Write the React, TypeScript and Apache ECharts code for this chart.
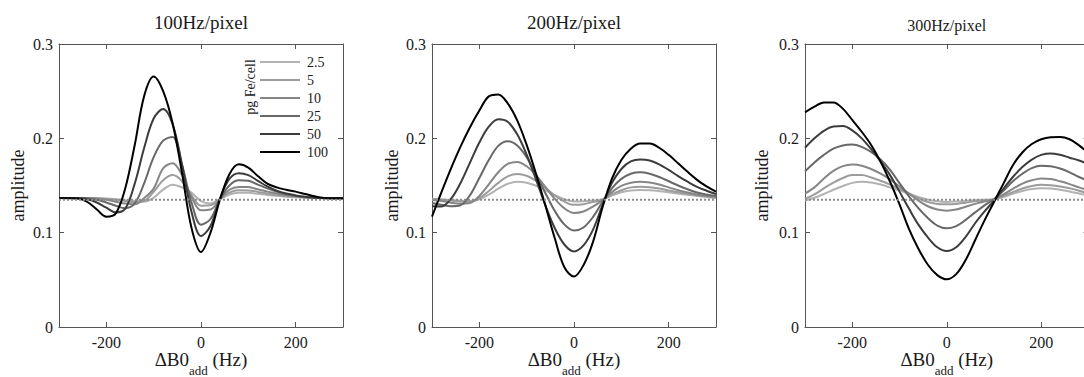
import { useEffect, useRef } from "react";
import * as echarts from "echarts";

// Frequency offset grid (Hz) shared by every curve
const offsetHz = [
  -300, -280, -260, -240, -220, -200, -180, -160, -140, -120, -100, -80, -60, -40, -20, 0,
  20, 40, 60, 80, 100, 120, 140, 160, 180, 200, 220, 240, 260, 280, 300,
];

// Iron load per cell (pg Fe/cell) and the grey level used for each
const ironLoads = ["2.5", "5", "10", "25", "50", "100"];
const loadColors = ["#b2b2b2", "#9c9c9c", "#868686", "#686868", "#3c3c3c", "#000000"];

// Amplitude of the unloaded reference (dotted line)
const referenceAmplitude = [0.135, 0.135];
const referenceHz = [-300, 300];

// Bandwidth 100 Hz/pixel
const bw100_2p5 = [0.1368, 0.1368, 0.1368, 0.1368, 0.1366, 0.1362, 0.1355, 0.1345, 0.1335, 0.133, 0.1371, 0.1457, 0.1508, 0.148, 0.1425, 0.1335, 0.131, 0.1355, 0.1405, 0.1423, 0.1422, 0.1412, 0.14, 0.139, 0.1382, 0.1376, 0.1372, 0.1369, 0.1367, 0.1366, 0.1366];
const bw100_5 = [0.1368, 0.1368, 0.1368, 0.1367, 0.1365, 0.1358, 0.1348, 0.1335, 0.1323, 0.1335, 0.1433, 0.1555, 0.161, 0.1545, 0.1395, 0.1285, 0.129, 0.1355, 0.1425, 0.145, 0.1448, 0.1432, 0.1415, 0.1398, 0.1388, 0.138, 0.1374, 0.137, 0.1367, 0.1366, 0.1366];
const bw100_10 = [0.1368, 0.1368, 0.1368, 0.1366, 0.136, 0.1348, 0.1328, 0.1308, 0.1302, 0.1367, 0.1467, 0.1682, 0.1735, 0.161, 0.138, 0.1237, 0.1245, 0.1355, 0.1455, 0.1485, 0.1483, 0.146, 0.1435, 0.1415, 0.1398, 0.1385, 0.1376, 0.137, 0.1367, 0.1366, 0.1366];
const bw100_25 = [0.1368, 0.1368, 0.1367, 0.1362, 0.1348, 0.132, 0.1285, 0.126, 0.131, 0.1525, 0.18, 0.1975, 0.2015, 0.1716, 0.132, 0.1085, 0.1145, 0.1355, 0.15, 0.1555, 0.155, 0.151, 0.147, 0.1435, 0.141, 0.139, 0.1378, 0.137, 0.1367, 0.1366, 0.1366];
const bw100_50 = [0.1368, 0.1368, 0.1365, 0.1355, 0.132, 0.1265, 0.1215, 0.1255, 0.152, 0.19, 0.221, 0.231, 0.215, 0.172, 0.122, 0.0965, 0.107, 0.136, 0.157, 0.163, 0.161, 0.155, 0.149, 0.1445, 0.1415, 0.1395, 0.138, 0.137, 0.1366, 0.1365, 0.1365];
const bw100_100 = [0.1368, 0.1366, 0.1362, 0.1325, 0.1245, 0.117, 0.1205, 0.147, 0.193, 0.245, 0.2655, 0.25, 0.216, 0.163, 0.105, 0.0795, 0.1, 0.135, 0.162, 0.1725, 0.169, 0.16, 0.152, 0.148, 0.1455, 0.1435, 0.141, 0.1385, 0.1368, 0.1365, 0.1365];

// Bandwidth 200 Hz/pixel
const bw200_2p5 = [0.1358, 0.1352, 0.1345, 0.1338, 0.1335, 0.1354, 0.1404, 0.1466, 0.1518, 0.154, 0.153, 0.1497, 0.1448, 0.1396, 0.1354, 0.1331, 0.1333, 0.134, 0.1352, 0.1393, 0.1428, 0.1447, 0.1452, 0.1449, 0.144, 0.1428, 0.1415, 0.1402, 0.139, 0.1378, 0.1367];
const bw200_5 = [0.1355, 0.1348, 0.134, 0.133, 0.1326, 0.1365, 0.1441, 0.1528, 0.1597, 0.1622, 0.1603, 0.1549, 0.1472, 0.1393, 0.1328, 0.1295, 0.1302, 0.1325, 0.1347, 0.1405, 0.145, 0.148, 0.1487, 0.1482, 0.1468, 0.1448, 0.1428, 0.141, 0.1395, 0.1383, 0.1372];
const bw200_10 = [0.1345, 0.1335, 0.1318, 0.1307, 0.1315, 0.1389, 0.1511, 0.164, 0.1729, 0.175, 0.1704, 0.1608, 0.1482, 0.1356, 0.1257, 0.1209, 0.1225, 0.1275, 0.1345, 0.143, 0.1495, 0.153, 0.154, 0.1532, 0.151, 0.148, 0.145, 0.1425, 0.1405, 0.139, 0.1378];
const bw200_25 = [0.1315, 0.1295, 0.128, 0.129, 0.1395, 0.158, 0.177, 0.192, 0.197, 0.1925, 0.18, 0.1615, 0.1415, 0.1225, 0.1085, 0.1022, 0.1055, 0.1165, 0.1325, 0.147, 0.157, 0.1625, 0.164, 0.1625, 0.159, 0.1545, 0.15, 0.146, 0.1425, 0.1405, 0.139];
const bw200_50 = [0.128, 0.1278, 0.1357, 0.1524, 0.174, 0.1956, 0.2123, 0.2202, 0.2175, 0.2042, 0.1826, 0.156, 0.1283, 0.1042, 0.0872, 0.0801, 0.0865, 0.103, 0.129, 0.1525, 0.1675, 0.1755, 0.1775, 0.1765, 0.1725, 0.1665, 0.16, 0.154, 0.1485, 0.1445, 0.141];
const bw200_100 = [0.117, 0.143, 0.168, 0.191, 0.2115, 0.2295, 0.2445, 0.2465, 0.237, 0.219, 0.193, 0.162, 0.128, 0.093, 0.063, 0.0535, 0.0655, 0.09, 0.1265, 0.157, 0.177, 0.189, 0.1945, 0.1945, 0.19, 0.1825, 0.1735, 0.1645, 0.156, 0.149, 0.1435];

// Bandwidth 300 Hz/pixel
const bw300_2p5 = [0.134, 0.137, 0.141, 0.1455, 0.1495, 0.1528, 0.154, 0.1532, 0.151, 0.148, 0.1448, 0.1412, 0.1378, 0.135, 0.1332, 0.1326, 0.133, 0.1337, 0.1343, 0.1348, 0.1353, 0.1378, 0.1412, 0.1442, 0.1462, 0.147, 0.1467, 0.1455, 0.1437, 0.1415, 0.1392];
const bw300_5 = [0.136, 0.1405, 0.147, 0.153, 0.158, 0.161, 0.161, 0.1585, 0.155, 0.151, 0.1465, 0.1415, 0.1365, 0.1325, 0.1305, 0.13, 0.1305, 0.1318, 0.1332, 0.1342, 0.1355, 0.139, 0.143, 0.1468, 0.1495, 0.1508, 0.1503, 0.149, 0.147, 0.1445, 0.1415];
const bw300_10 = [0.1415, 0.148, 0.1575, 0.1655, 0.1705, 0.1722, 0.171, 0.1675, 0.1625, 0.1565, 0.149, 0.1415, 0.134, 0.128, 0.1245, 0.1233, 0.1245, 0.1275, 0.1305, 0.133, 0.1355, 0.1405, 0.1465, 0.152, 0.1555, 0.1575, 0.157, 0.1545, 0.1515, 0.148, 0.145];
const bw300_25 = [0.165, 0.1745, 0.1825, 0.189, 0.1925, 0.1935, 0.191, 0.1855, 0.1775, 0.1665, 0.1525, 0.1385, 0.126, 0.1155, 0.1075, 0.1046, 0.107, 0.1135, 0.1215, 0.129, 0.1355, 0.1445, 0.1545, 0.1625, 0.1685, 0.171, 0.1705, 0.168, 0.164, 0.159, 0.155];
const bw300_50 = [0.19, 0.2, 0.208, 0.2125, 0.213, 0.2085, 0.2, 0.1885, 0.1755, 0.161, 0.1435, 0.1255, 0.1085, 0.095, 0.0845, 0.0805, 0.0845, 0.0955, 0.11, 0.1225, 0.134, 0.1465, 0.159, 0.1695, 0.1775, 0.1825, 0.184, 0.1825, 0.1795, 0.1765, 0.1725];
const bw300_100 = [0.2275, 0.2335, 0.238, 0.238, 0.2315, 0.2195, 0.207, 0.193, 0.175, 0.154, 0.13, 0.104, 0.083, 0.066, 0.055, 0.0505, 0.056, 0.071, 0.092, 0.113, 0.1325, 0.152, 0.1715, 0.185, 0.194, 0.199, 0.2012, 0.2015, 0.199, 0.1925, 0.1845];

// Axis ticks
const xTickValues = [-200, 0, 200];
const yTickValues = [0, 0.1, 0.2, 0.3];

const FONT = "Liberation Serif";
const INK = "#1a1a1a";
const AXIS = "#555555";

const panels = [
  {
    title: "100Hz/pixel",
    titleSize: 19,
    titleY: 22,
    grid: { left: 59, right: 741, top: 44, bottom: 50 },
    nameGap: 32,
    curves: [bw100_2p5, bw100_5, bw100_10, bw100_25, bw100_50, bw100_100],
  },
  {
    title: "200Hz/pixel",
    titleSize: 19,
    titleY: 22,
    grid: { left: 432, right: 368, top: 44, bottom: 50 },
    nameGap: 31,
    curves: [bw200_2p5, bw200_5, bw200_10, bw200_25, bw200_50, bw200_100],
  },
  {
    title: "300Hz/pixel",
    titleSize: 16,
    titleY: 25,
    grid: { left: 805, right: -4.5, top: 44, bottom: 50 },
    nameGap: 34,
    curves: [bw300_2p5, bw300_5, bw300_10, bw300_25, bw300_50, bw300_100],
  },
];

function buildOption() {
  const grids: any[] = [];
  const xAxes: any[] = [];
  const yAxes: any[] = [];
  const series: any[] = [];
  const graphics: any[] = [];

  panels.forEach((p, i) => {
    grids.push({ ...p.grid, containLabel: false, outerBoundsMode: "none" });
    const boxLine = { show: true, onZero: false, lineStyle: { color: AXIS, width: 1 } };
    const xMin = offsetHz[0];
    const xMax = offsetHz[offsetHz.length - 1];

    xAxes.push({
      type: "value",
      gridIndex: i,
      position: "bottom",
      min: xMin,
      max: xMax,
      axisLine: boxLine,
      axisTick: { show: true, inside: true, length: 5, customValues: xTickValues, lineStyle: { color: AXIS } },
      axisLabel: { customValues: xTickValues, margin: 7, color: INK, fontFamily: FONT, fontSize: 16 },
      splitLine: { show: false },
      name: "{a|ΔB0}{s|add}{a| (Hz)}",
      nameLocation: "middle",
      nameGap: 15,
      nameMoveOverlap: false,
      nameTextStyle: {
        fontFamily: FONT,
        verticalAlign: "top",
        rich: {
          a: { fontFamily: FONT, fontSize: 19, lineHeight: 35, color: INK },
          s: { fontFamily: FONT, fontSize: 13, lineHeight: 13, verticalAlign: "bottom", color: INK },
        },
      },
    });
    xAxes.push({
      type: "value",
      gridIndex: i,
      position: "top",
      min: xMin,
      max: xMax,
      axisLine: boxLine,
      axisTick: { show: true, inside: true, length: 5, customValues: xTickValues, lineStyle: { color: AXIS } },
      axisLabel: { show: false },
      splitLine: { show: false },
    });

    yAxes.push({
      type: "value",
      gridIndex: i,
      position: "left",
      min: yTickValues[0],
      max: yTickValues[yTickValues.length - 1],
      interval: 0.1,
      axisLine: boxLine,
      axisTick: { show: true, inside: true, length: 5, lineStyle: { color: AXIS } },
      axisLabel: {
        margin: 6,
        color: INK,
        fontFamily: FONT,
        fontSize: 16,
        formatter: (v: number) => (v === 0 ? "0" : v.toFixed(1)),
      },
      splitLine: { show: false },
      name: "amplitude",
      nameLocation: "middle",
      nameGap: p.nameGap,
      nameMoveOverlap: false,
      nameTextStyle: { fontFamily: FONT, fontSize: 18, color: INK },
    });
    yAxes.push({
      type: "value",
      gridIndex: i,
      position: "right",
      min: yTickValues[0],
      max: yTickValues[yTickValues.length - 1],
      interval: 0.1,
      axisLine: boxLine,
      axisTick: { show: true, inside: true, length: 5, lineStyle: { color: AXIS } },
      axisLabel: { show: false },
      splitLine: { show: false },
    });

    p.curves.forEach((values, j) => {
      series.push({
        type: "line",
        name: ironLoads[j],
        xAxisIndex: 2 * i,
        yAxisIndex: 2 * i,
        data: offsetHz.map((hz, k) => [hz, values[k]]),
        smooth: 0.35,
        symbol: "none",
        lineStyle: { color: loadColors[j], width: 2 },
        itemStyle: { color: loadColors[j] },
        z: 2 + j,
      });
    });

    series.push({
      type: "line",
      name: "reference",
      xAxisIndex: 2 * i,
      yAxisIndex: 2 * i,
      data: referenceHz.map((hz, k) => [hz, referenceAmplitude[k]]),
      symbol: "none",
      silent: true,
      lineStyle: { color: "#8c8c8c", width: 2, type: [2, 2] },
      z: 10,
    });

    const plotLeft = p.grid.left;
    const plotRight = 1084 - p.grid.right;
    graphics.push({
      type: "text",
      x: (plotLeft + plotRight) / 2,
      y: p.titleY,
      style: {
        text: p.title,
        font: `${p.titleSize}px "${FONT}"`,
        fill: INK,
        align: "center",
        verticalAlign: "middle",
        textAlign: "center",
        textVerticalAlign: "middle",
      },
    });
  });

  // Legend heading, written upright along the legend
  graphics.push({
    type: "text",
    x: 250,
    y: 87,
    rotation: Math.PI / 2,
    style: {
      text: "pg Fe/cell",
      font: `14px "${FONT}"`,
      fill: INK,
      align: "center",
      verticalAlign: "middle",
      textAlign: "center",
      textVerticalAlign: "middle",
    },
  });

  return {
    animation: false,
    backgroundColor: "#ffffff",
    textStyle: { fontFamily: FONT },
    grid: grids,
    xAxis: xAxes,
    yAxis: yAxes,
    legend: {
      data: ironLoads,
      orient: "vertical",
      left: 260,
      top: 55,
      padding: 0,
      icon: "rect",
      itemWidth: 40,
      itemHeight: 2.2,
      itemGap: 4,
      selectedMode: false,
      textStyle: { fontFamily: FONT, fontSize: 14, color: INK, padding: [0, 0, 0, 2], lineHeight: 13 },
    },
    graphic: graphics,
    series,
  };
}

export default function App() {
  const ref = useRef<HTMLDivElement>(null);

  useEffect(() => {
    if (!ref.current) return;
    const chart = echarts.init(ref.current, undefined, { renderer: "svg" });
    chart.setOption(buildOption());
    return () => chart.dispose();
  }, []);

  return (
    <div
      ref={ref}
      style={{ position: "absolute", left: 0, top: 0, width: 1084, height: 377, background: "#fff" }}
    />
  );
}
